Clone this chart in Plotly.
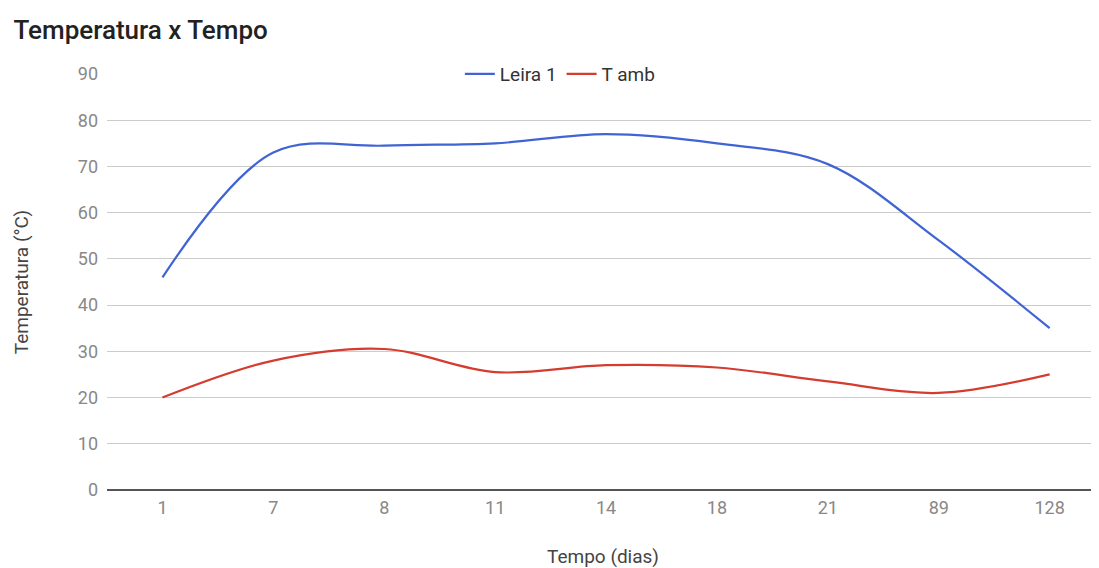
import plotly.graph_objects as go

categorias = ["1", "7", "8", "11", "14", "18", "21", "89", "128"]
leira_1 = [46, 73, 74.5, 75, 77, 75, 70.5, 54, 35]
t_amb = [20, 28, 30.5, 25.5, 27, 26.5, 23.5, 21, 25]
y_ticks = [0, 10, 20, 30, 40, 50, 60, 70, 80, 90]

fig = go.Figure()
fig.add_trace(go.Scatter(x=categorias, y=leira_1, name="Leira 1", mode="lines",
                         line=dict(color="#4064d3", width=2.2, shape="spline", smoothing=1)))
fig.add_trace(go.Scatter(x=categorias, y=t_amb, name="T amb", mode="lines",
                         line=dict(color="#d33c2f", width=2.2, shape="spline", smoothing=1)))

fig.update_layout(
    width=1091, height=560,
    margin=dict(l=99, r=0, t=66, b=78),
    paper_bgcolor="white", plot_bgcolor="white",
    font=dict(family="Roboto, Arial, sans-serif"),
    title=dict(text="Temperatura x Tempo", x=0.005, xanchor="left", y=0.961, yanchor="middle",
               font=dict(size=26, color="#222222", weight=500)),
    legend=dict(orientation="h", x=0.457, xanchor="center", y=1.0, yanchor="middle",
                bgcolor="rgba(255,255,255,0)", font=dict(size=19, color="#333333"),
                itemwidth=30),
    xaxis=dict(type="category", range=[-0.5, 8.445], showgrid=False, showline=False,
               ticks="", ticklabelstandoff=5, tickfont=dict(size=18, color="#888888"),
               title=dict(text="Tempo (dias)", font=dict(size=19, color="#444444"), standoff=32)),
    yaxis=dict(range=[0, 90], tickvals=y_ticks, showgrid=True, gridcolor="#cccccc", gridwidth=1,
               zeroline=True, zerolinecolor="#555555", zerolinewidth=2,
               ticks="", ticklabelstandoff=8, tickfont=dict(size=18, color="#888888"),
               title=dict(text="Temperatura (°C)", font=dict(size=19, color="#444444"), standoff=44)),
)

fig.write_html("out.html")
